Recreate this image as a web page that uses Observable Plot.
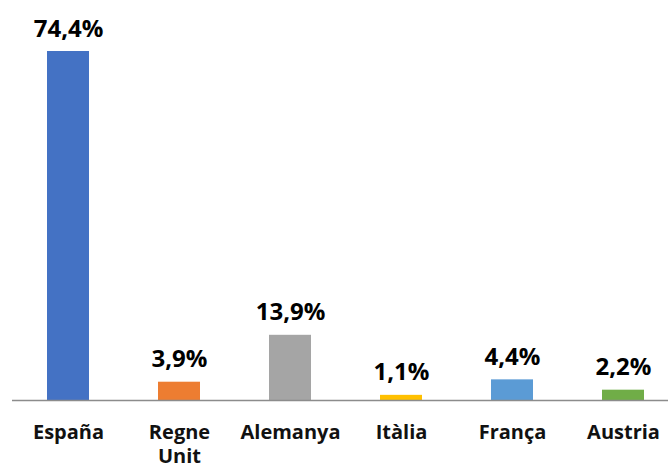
<!DOCTYPE html>
<html>
<head>
<meta charset="utf-8">
<script src="https://cdn.jsdelivr.net/npm/d3@7"></script>
<script src="https://cdn.jsdelivr.net/npm/@observablehq/plot@0.6"></script>
<style>
  html, body { margin: 0; padding: 0; background: #fff; }
  #chart svg { display: block; font-family: "Open Sans", sans-serif; }
</style>
</head>
<body>
<div id="chart"></div>
<script>
const countries = ["España", "Regne Unit", "Alemanya", "Itàlia", "França", "Austria"];
const shares = [74.4, 3.9, 13.9, 1.1, 4.4, 2.2];
const colors = ["#4472C4", "#ED7D31", "#A5A5A5", "#FFC000", "#5B9BD5", "#70AD47"];
const valueLabels = ["74,4%", "3,9%", "13,9%", "1,1%", "4,4%", "2,2%"];
const tickLabels = ["España", "Regne\nUnit", "Alemanya", "Itàlia", "França", "Austria"];

const data = countries.map((c, i) => ({country: c, value: shares[i], color: colors[i], label: valueLabels[i], tick: tickLabels[i]}));

const chart = Plot.plot({
  width: 668,
  height: 465,
  marginLeft: 12,
  marginRight: 0,
  marginTop: 51,
  marginBottom: 65,
  x: {domain: countries, range: [12, 679], paddingInner: 0.62, paddingOuter: 0.31, axis: null},
  y: {domain: [0, 74.4], axis: null},
  marks: [
    Plot.barY(data, {x: "country", y: "value", fill: "color"}),
    Plot.ruleY([0], {stroke: "#8c8c8c", strokeWidth: 1.5}),
    Plot.text(data, {x: "country", y: "value", text: "label", dy: -15, lineAnchor: "bottom", fontSize: 24, fontWeight: "bold", fill: "#000"}),
    Plot.text(data, {x: "country", y: 0, text: "tick", dy: 21, lineAnchor: "top", fontSize: 20, fontWeight: "bold", fill: "#111", lineHeight: 1.2})
  ]
});
document.getElementById("chart").appendChild(chart);
</script>
</body>
</html>
